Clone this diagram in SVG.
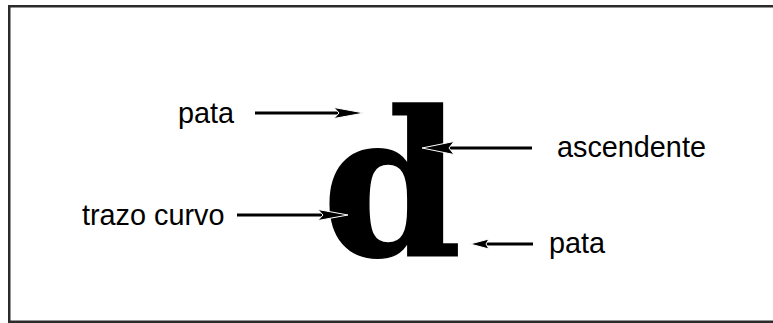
<svg xmlns="http://www.w3.org/2000/svg" width="773" height="323" viewBox="0 0 773 323">
  <style>
    .label { font-family: "Liberation Sans", Arial, sans-serif; font-size: 28.8px; fill: #000; }
    .glyph { font-family: "DejaVu Serif", serif; font-weight: bold; font-size: 200px; fill: #000; }
    .shaft { stroke: #000; stroke-width: 2.8; fill: none; }
    .head { fill: #000; stroke: #fff; stroke-width: 1; stroke-linejoin: miter; }
  </style>
  <rect x="0" y="0" width="773" height="323" fill="#fff"/>
  <!-- frame (right side runs past the canvas edge) -->
  <rect x="9.25" y="6.25" width="780" height="315.5" fill="none" stroke="#2b2b2b" stroke-width="2.5"/>

  <g id="letter-d">
    <text class="glyph" x="322" y="255" stroke="#000" stroke-width="1.5">d</text>
  </g>

  <g id="label-pata-top"><text class="label" x="178" y="123">pata</text></g>
  <g id="label-ascendente"><text class="label" x="557" y="157">ascendente</text></g>
  <g id="label-trazo-curvo"><text class="label" x="82" y="225">trazo curvo</text></g>
  <g id="label-pata-bottom"><text class="label" x="549" y="253">pata</text></g>

  <g id="connectors">
    <!-- pata (top) -->
    <line class="shaft" x1="255" y1="113" x2="340" y2="113"/>
    <path class="head" d="M364,113 L334,107.5 L339,113 L334,118.5 Z"/>
    <!-- ascendente -->
    <line class="shaft" x1="532" y1="148" x2="448" y2="148"/>
    <path class="head" d="M422,148 L454,141.5 L449,148 L454,154.5 Z"/>
    <!-- trazo curvo -->
    <line class="shaft" x1="237" y1="215" x2="322" y2="215"/>
    <path class="head" d="M348,215 L318,209.5 L323,215 L318,220.5 Z"/>
    <!-- pata (bottom) -->
    <line class="shaft" x1="533" y1="244" x2="484" y2="244"/>
    <path class="head" d="M470,244 L489,239 L486,244 L489,249 Z"/>
  </g>
</svg>
